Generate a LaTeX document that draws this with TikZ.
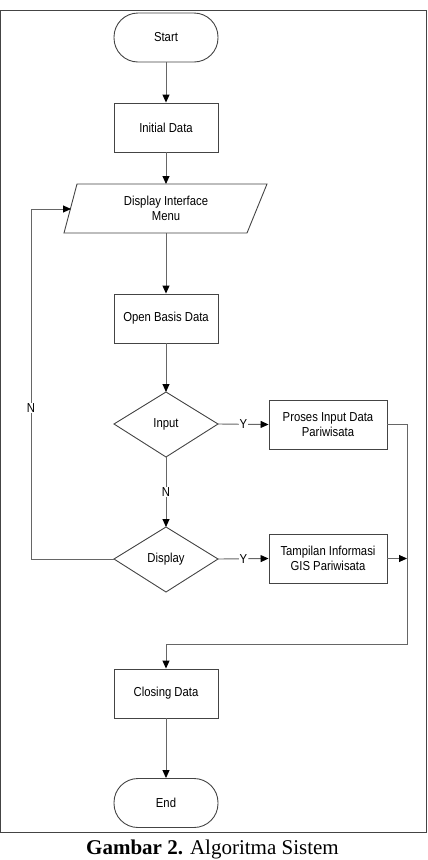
\documentclass[tikz,border=0pt]{standalone}
\usepackage{fontspec}
\setmainfont[FakeStretch=0.87]{Liberation Sans}
\newfontfamily\capfont{Liberation Serif}
\usetikzlibrary{arrows.meta,positioning}
\definecolor{edgec}{HTML}{444444}
\definecolor{linec}{HTML}{666666}
\tikzset{
  procbox/.style={draw=edgec,line width=0.9pt,minimum width=104pt,minimum height=49pt,inner sep=1pt,align=center,font=\fontsize{13}{14.5}\selectfont},
  termbox/.style={procbox,rounded corners=24pt},
  sidebox/.style={procbox,minimum width=118pt},
  decbox/.style={font=\fontsize{13}{14.5}\selectfont,inner sep=0pt},
  conn/.style={draw=linec,line width=0.9pt,-{Triangle[length=8pt,width=7pt,color=black]}},
  plainconn/.style={draw=linec,line width=0.9pt},
  lbl/.style={fill=white,inner sep=1pt,font=\fontsize{13}{14.5}\selectfont}
}
\begin{document}
\begin{tikzpicture}[x=1pt,y=-1pt]
\useasboundingbox (0,0) rectangle (428,860);
\clip (0,0) rectangle (428,860);
\draw[draw=edgec,line width=1pt] (0.5,10) rectangle (426,832);

\node[termbox] (start) at (166,37.5) {Start};
\node[procbox] (init) at (166,127.5) {Initial Data};
% parallelogram
\draw[draw=edgec,line width=0.9pt] (77,184) -- (267,184) -- (247,233) -- (64,233) -- cycle;
\node[decbox,align=center] (disp) at (166,208.5) {Display Interface\\[1pt]Menu};
\coordinate (dtop) at (166,184);
\coordinate (dbot) at (166,233);
\coordinate (dleft) at (71,209);
\node[procbox] (open) at (166,318.5) {Open Basis Data};
% diamonds
\draw[draw=edgec,line width=0.9pt] (114,424) -- (166,392) -- (218,424) -- (166,457) -- cycle;
\node[decbox] (input) at (166,424) {Input};
\coordinate (inN) at (166,392);
\coordinate (inS) at (166,457);
\coordinate (inE) at (218,424);
\draw[draw=edgec,line width=0.9pt] (114,559) -- (166,527) -- (218,559) -- (166,592) -- cycle;
\node[decbox] (display) at (166,559) {Display};
\coordinate (diN) at (166,527);
\coordinate (diE) at (218,559);
\coordinate (diW) at (114,559);

\node[sidebox] (proses) at (328,424.5) {Proses Input Data\\[1pt]Pariwisata};
\node[sidebox] (tampil) at (328,558.5) {Tampilan Informasi\\[1pt]GIS Pariwisata};
\node[procbox] (closing) at (166,693.5) {Closing Data};
\node[termbox] (end) at (166,803) {End};

\coordinate (c1) at (407,644);
\coordinate (c3) at (31,559);

\draw[conn] (start) -- (init);
\draw[conn] (init) -- (dtop);
\draw[conn] (dbot) -- (open);
\draw[conn] (open) -- (inN);
\draw[conn] (inE) -- node[lbl,pos=0.5] (y1) {Y} (proses.west);
\draw[conn] (inS) -- node[lbl,pos=0.5] (n1) {N} (diN);
\draw[conn] (diE) -- node[lbl,pos=0.5] (y2) {Y} (tampil.west);
\draw[conn] (tampil.east) -- (tampil.east -| c1);
\draw[conn] (proses.east) -| (c1) -| (closing.north);
\draw[conn] (diW) -- (c3) |- (dleft);
\node[lbl] (n2) at (31,408) {N};
\draw[conn] (closing) -- (end);

\node[anchor=base,font=\capfont\fontsize{21}{24}\selectfont] (cap) at (212.5,854) {\textbf{Gambar 2.} Algoritma Sistem};
\end{tikzpicture}
\end{document}
